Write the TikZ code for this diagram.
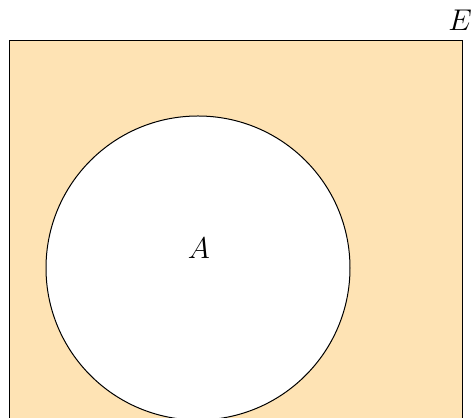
\documentclass[tikz,border=0pt]{standalone}
\definecolor{setfill}{RGB}{254,227,180}
\begin{document}
\begin{tikzpicture}[x=0.4pt,y=-0.4pt,line width=0.4pt,
  lbl/.style={inner sep=0pt,font=\fontsize{12}{14}\selectfont}]
\useasboundingbox (0,0) rectangle (474,418);
\clip (0,0) rectangle (474,418);
\draw[fill=setfill] (9.5,41) rectangle (462,430);
\draw[fill=white] (198,268) circle[radius=152];
\node[lbl] (Albl) at (199,248) {$A$};
\node[lbl] (Elbl) at (460,20) {$E$};
\end{tikzpicture}
\end{document}
